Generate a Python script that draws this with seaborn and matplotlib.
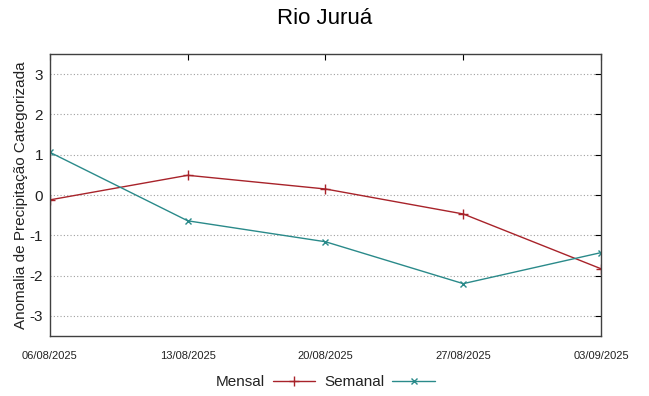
import matplotlib
matplotlib.use("Agg")
import matplotlib.pyplot as plt
import seaborn as sns
import pandas as pd

dates = ["06/08/2025", "13/08/2025", "20/08/2025", "27/08/2025", "03/09/2025"]
mensal = [-0.12, 0.49, 0.15, -0.47, -1.83]
semanal = [1.06, -0.64, -1.16, -2.20, -1.43]

sns.set_style("white")
plt.rcParams['font.family'] = ['Liberation Sans', 'DejaVu Sans']
plt.rcParams['text.color'] = '#222222'
plt.rcParams['xtick.color'] = '#222222'
plt.rcParams['ytick.color'] = '#222222'
plt.rcParams['axes.labelcolor'] = '#222222'

df = pd.DataFrame({
    "x": list(range(len(dates))) * 2,
    "y": mensal + semanal,
    "serie": ["Mensal"] * len(dates) + ["Semanal"] * len(dates),
})

fig = plt.figure(figsize=(6.49, 3.96), dpi=100)
ax = fig.add_axes([0.077, 0.1515, 0.849, 0.712])
palette = {"Mensal": "#a8232a", "Semanal": "#2a8a8a"}
sns.lineplot(data=df[df.serie == "Mensal"], x="x", y="y", color=palette["Mensal"],
             marker="+", markersize=7, mew=1, mec=palette["Mensal"], lw=1, ax=ax, label="Mensal")
sns.lineplot(data=df[df.serie == "Semanal"], x="x", y="y", color=palette["Semanal"],
             marker="x", markersize=5, mew=1, mec=palette["Semanal"], lw=1, ax=ax, label="Semanal")

ax.set_xlim(0, len(dates) - 1)
ax.set_ylim(-3.5, 3.5)
ax.set_xticks(range(len(dates)))
ax.set_xticklabels(dates, fontsize=8)
ax.set_yticks([-3, -2, -1, 0, 1, 2, 3])
ax.set_yticklabels(["-3", "-2", "-1", "0", "1", "2", "3"], fontsize=11)
ax.tick_params(axis="both", direction="in", length=4, top=True, right=True, color="black")
ax.tick_params(axis="x", pad=11)
ax.tick_params(axis="y", pad=5)
ax.yaxis.grid(True, linestyle=(0, (1, 2)), color="#a0a0a0", lw=0.8)
for s in ax.spines.values():
    s.set_color("#404040")
    s.set_linewidth(1)
ax.set_xlabel("")
ax.set_ylabel("Anomalia de Precipitação Categorizada", fontsize=11, labelpad=1)
fig.suptitle("Rio Juruá", fontsize=16, y=0.98, color="black")

ax.legend(loc="upper center", bbox_to_anchor=(0.5, -0.09), ncol=2, frameon=False,
          markerfirst=False, fontsize=11, handlelength=2.8, columnspacing=0.6, handletextpad=0.5)

fig.savefig("out.png", dpi=100)
